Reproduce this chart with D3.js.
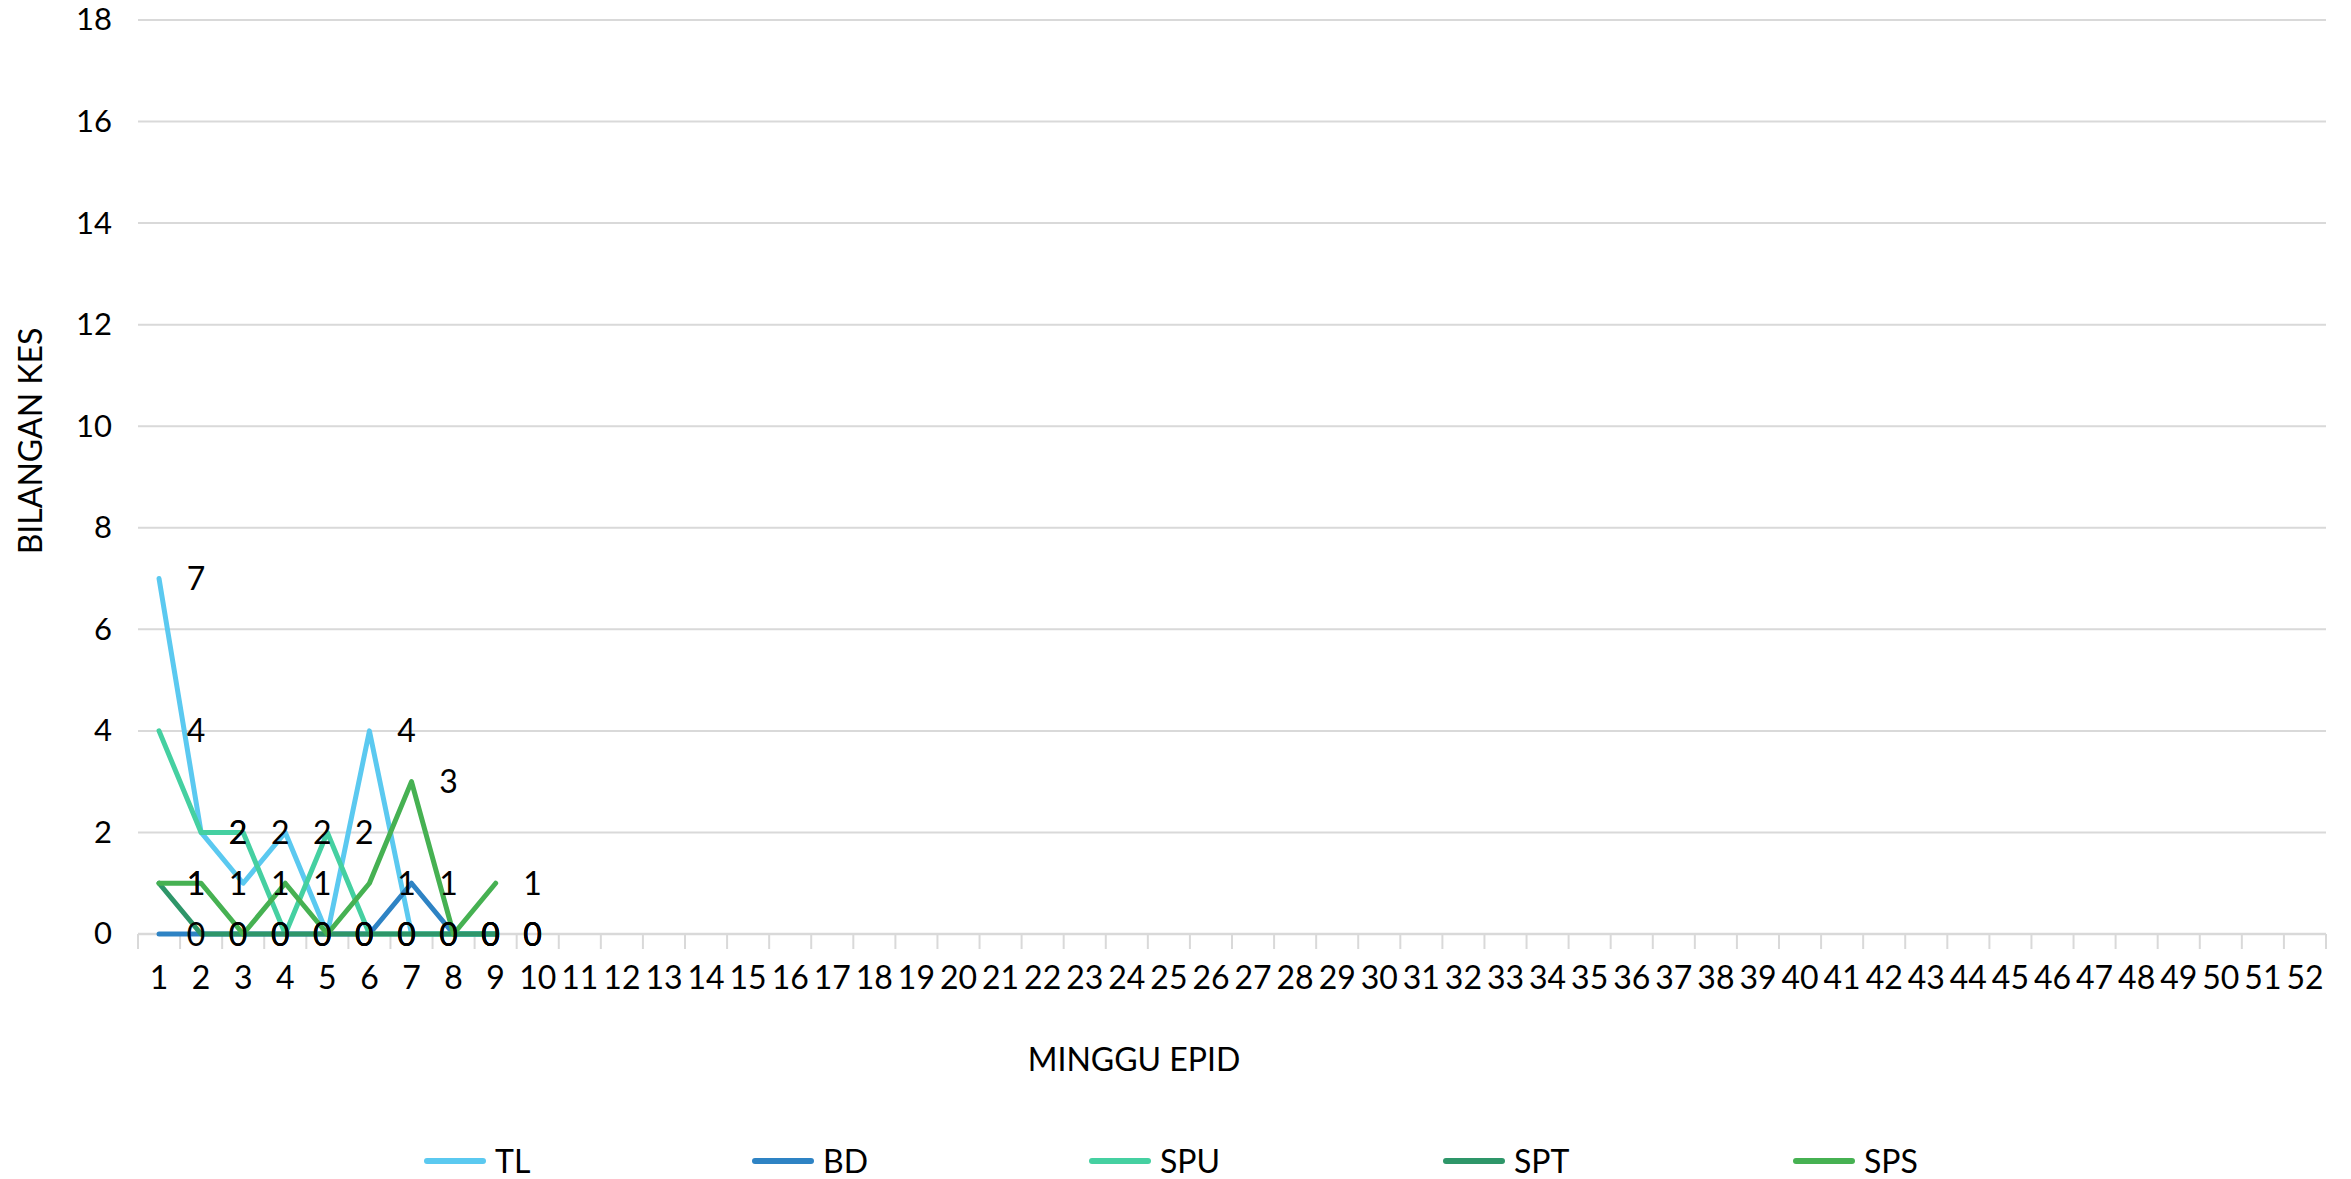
<!DOCTYPE html>
<html>
<head>
<meta charset="utf-8">
<script src="https://cdnjs.cloudflare.com/ajax/libs/d3/7.8.5/d3.min.js"></script>
<style>
  body { margin: 0; background: #fff; }
  text { font-family: Lato, "Open Sans", sans-serif; fill: #000; }
</style>
</head>
<body>
<div id="chart"></div>
<script>
// week labels on the x axis
var weeks = d3.range(1, 53).map(String);

// y axis ticks
var yTicks = [0, 2, 4, 6, 8, 10, 12, 14, 16, 18];

// series names, one value per week (weeks 1-9)
var seriesNames = ["TL", "BD", "SPU", "SPT", "SPS"];
var tlValues  = [7, 2, 1, 2, 0, 4, 0, 0, 0];
var bdValues  = [0, 0, 0, 0, 0, 0, 1, 0, 0];
var spuValues = [4, 2, 2, 0, 2, 0, 0, 0, 0];
var sptValues = [1, 0, 0, 0, 0, 0, 0, 0, 0];
var spsValues = [1, 1, 0, 1, 0, 1, 3, 0, 1];

var svgWidth = 2351;
var svgHeight = 1179;

var margin = { top: 20, right: 25, bottom: 245, left: 138 };
var width = svgWidth - margin.left - margin.right;
var height = svgHeight - margin.top - margin.bottom;

var colors = {
  TL: "#5bc9f0",
  BD: "#2e83c4",
  SPU: "#45d0a1",
  SPT: "#2e9669",
  SPS: "#46b152"
};

var seriesData = [tlValues, bdValues, spuValues, sptValues, spsValues].map(function(vals, i) {
  return {
    name: seriesNames[i],
    values: vals.map(function(v, j) { return { week: weeks[j], value: v }; })
  };
});

var svg = d3.select("#chart")
  .append("svg")
  .attr("width", svgWidth)
  .attr("height", svgHeight);

var chartGroup = svg.append("g")
  .attr("transform", `translate(${margin.left}, ${margin.top})`);

// scales
var xScale = d3.scaleBand()
  .domain(weeks)
  .range([0, width])
  .padding(0);

var yScale = d3.scaleLinear()
  .domain([0, 18])
  .range([height, 0]);

var xCenter = function(w) { return xScale(w) + xScale.bandwidth() / 2; };

// gridlines
chartGroup.append("g")
  .selectAll("line")
  .data(yTicks.filter(d => d > 0))
  .enter()
  .append("line")
  .attr("x1", 0)
  .attr("x2", width)
  .attr("y1", d => yScale(d))
  .attr("y2", d => yScale(d))
  .attr("stroke", "#d9d9d9")
  .attr("stroke-width", 2);

// y axis labels
var leftAxis = d3.axisLeft(yScale).tickValues(yTicks).tickSize(0).tickPadding(26);
var yAxisG = chartGroup.append("g").call(leftAxis);
yAxisG.select(".domain").remove();
yAxisG.selectAll("text")
  .style("font-family", "Lato, sans-serif")
  .style("font-size", "31px")
  .attr("fill", "#000");

// x axis: ticks at band boundaries, labels at band centres
var bottomAxis = d3.axisBottom(xScale).tickSize(0).tickPadding(32);
var xAxisG = chartGroup.append("g")
  .attr("transform", `translate(0, ${height})`)
  .call(bottomAxis);
xAxisG.select(".domain").remove();
xAxisG.selectAll("text")
  .style("font-family", "Lato, sans-serif")
  .style("font-size", "32px")
  .attr("fill", "#000");

var boundaries = weeks.map(w => xScale(w)).concat([width]);
xAxisG.selectAll(".bound")
  .data(boundaries)
  .enter()
  .append("line")
  .attr("class", "bound")
  .attr("x1", d => d)
  .attr("x2", d => d)
  .attr("y1", 0)
  .attr("y2", 15)
  .attr("stroke", "#d9d9d9")
  .attr("stroke-width", 2);

xAxisG.append("line")
  .attr("x1", 0)
  .attr("x2", width)
  .attr("y1", 0)
  .attr("y2", 0)
  .attr("stroke", "#d9d9d9")
  .attr("stroke-width", 2.5);

// lines
var line = d3.line()
  .x(d => xCenter(d.week))
  .y(d => yScale(d.value));

chartGroup.selectAll(".series")
  .data(seriesData)
  .enter()
  .append("path")
  .attr("class", "series")
  .attr("d", d => line(d.values))
  .attr("fill", "none")
  .attr("stroke", d => colors[d.name])
  .attr("stroke-width", 5)
  .attr("stroke-linejoin", "round")
  .attr("stroke-linecap", "round");

// data labels, to the right of each point
seriesData.forEach(function(s) {
  chartGroup.selectAll(null)
    .data(s.values)
    .enter()
    .append("text")
    .attr("x", d => xCenter(d.week) + 37)
    .attr("y", d => yScale(d.value))
    .attr("dy", "0.36em")
    .style("text-anchor", "middle")
    .style("font-size", "32px")
    .text(d => d.value);
});

// axis titles
svg.append("text")
  .attr("transform", "translate(42, 441) rotate(-90)")
  .style("text-anchor", "middle")
  .style("font-size", "32px")
  .text("BILANGAN KES");

svg.append("text")
  .attr("x", 1134)
  .attr("y", 1071)
  .style("text-anchor", "middle")
  .style("font-size", "32px")
  .text("MINGGU EPID");

// legend
var legendX = [427, 755, 1092, 1446, 1796];
var legend = svg.append("g")
  .selectAll("g")
  .data(seriesNames)
  .enter()
  .append("g")
  .attr("transform", (d, i) => `translate(${legendX[i]}, 1161)`);

legend.append("line")
  .attr("x1", 0)
  .attr("x2", 56)
  .attr("y1", 0)
  .attr("y2", 0)
  .attr("stroke", d => colors[d])
  .attr("stroke-width", 6)
  .attr("stroke-linecap", "round");

legend.append("text")
  .attr("x", 68)
  .attr("dy", "0.36em")
  .style("font-size", "32px")
  .text(d => d);
</script>
</body>
</html>
